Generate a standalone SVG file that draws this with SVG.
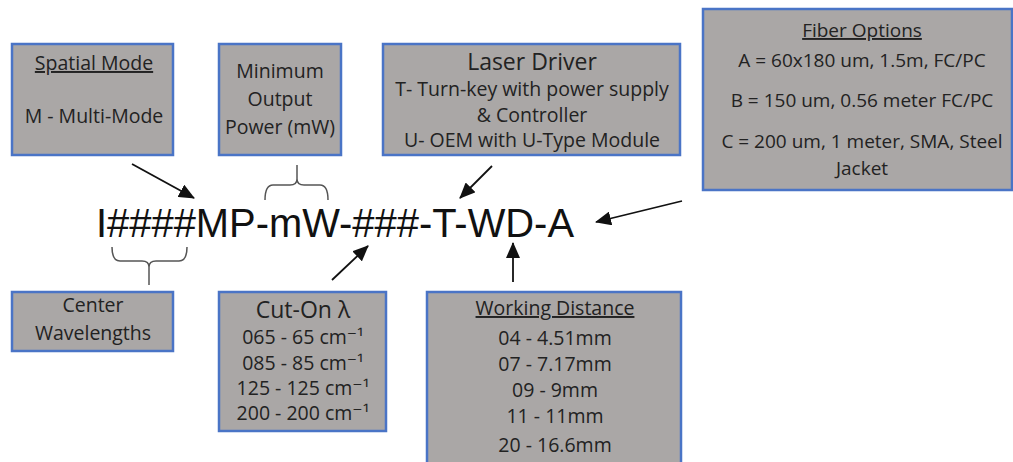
<svg xmlns="http://www.w3.org/2000/svg" width="1013" height="462" viewBox="0 0 1013 462">
<style>
.box{fill:#aaa7a6;stroke:#4a74c6;stroke-width:2.5}
.t{font-family:"Open Sans","DejaVu Sans",sans-serif;font-size:19.5px;fill:#222;text-anchor:middle}
.h{font-size:23px}
.f{font-size:19px}
.u{text-decoration:underline}
.main{font-family:"Liberation Sans",Arial,sans-serif;font-size:40px;fill:#111}
.arr{stroke:#111;stroke-width:1.8;fill:none;marker-end:url(#ah)}
.br{stroke:#555;stroke-width:1.5;fill:none}
</style>
<defs>
<marker id="ah" markerUnits="userSpaceOnUse" markerWidth="16" markerHeight="14" refX="15" refY="7" orient="auto">
<path d="M0,0 L16,7 L0,14 Z" fill="#111"/>
</marker>
</defs>
<rect width="1013" height="462" fill="#fff"/>
<g id="spatial-mode">
<rect class="box" x="12" y="44" width="161" height="111"/>
<text class="t u" x="94" y="70">Spatial Mode</text>
<text class="t" x="94" y="123" font-size="20">M - Multi-Mode</text>
</g>
<g id="min-power">
<rect class="box" x="219" y="44" width="122" height="111"/>
<text class="t" x="280" y="78">Minimum</text>
<text class="t" x="280" y="106">Output</text>
<text class="t" x="280" y="134">Power (mW)</text>
</g>
<g id="laser-driver">
<rect class="box" x="383" y="44" width="297" height="111"/>
<text class="t h" x="532" y="70">Laser Driver</text>
<text class="t" x="532" y="96" font-size="20">T- Turn-key with power supply</text>
<text class="t" x="532" y="122" font-size="20">&amp; Controller</text>
<text class="t" x="532" y="147" font-size="20">U- OEM with U-Type Module</text>
</g>
<g id="fiber-options">
<rect class="box" x="703" y="9" width="309" height="181"/>
<text class="t f u" x="862" y="37">Fiber Options</text>
<text class="t f" x="862" y="67">A = 60x180 um, 1.5m, FC/PC</text>
<text class="t f" x="862" y="107">B = 150 um, 0.56 meter FC/PC</text>
<text class="t f" x="862" y="148">C = 200 um, 1 meter, SMA, Steel</text>
<text class="t f" x="862" y="175">Jacket</text>
</g>
<g id="center-wavelengths">
<rect class="box" x="12" y="292" width="161" height="59"/>
<text class="t" x="93" y="312">Center</text>
<text class="t" x="93" y="340">Wavelengths</text>
</g>
<g id="cut-on">
<rect class="box" x="219" y="292" width="167" height="139"/>
<text class="t h" x="303" y="318">Cut-On λ</text>
<text class="t" x="303" y="344">065 - 65 cm⁻¹</text>
<text class="t" x="303" y="370">085 - 85 cm⁻¹</text>
<text class="t" x="303" y="395">125 - 125 cm⁻¹</text>
<text class="t" x="303" y="420">200 - 200 cm⁻¹</text>
</g>
<g id="working-distance">
<rect class="box" x="427" y="292" width="254" height="180"/>
<text class="t u" x="555" y="315">Working Distance</text>
<text class="t" x="555" y="345">04 - 4.51mm</text>
<text class="t" x="555" y="371">07 - 7.17mm</text>
<text class="t" x="555" y="397">09 - 9mm</text>
<text class="t" x="555" y="423">11 - 11mm</text>
<text class="t" x="555" y="452">20 - 16.6mm</text>
</g>
<g id="part-number">
<text class="main" x="96" y="237" textLength="478" lengthAdjust="spacingAndGlyphs">I####MP-mW-###-T-WD-A</text>
</g>
<g id="connectors">
<line class="arr" x1="132" y1="164" x2="194" y2="198"/>
<line class="arr" x1="492" y1="166" x2="460" y2="198"/>
<line class="arr" x1="682" y1="201" x2="596" y2="222"/>
<line class="arr" x1="332" y1="280" x2="368" y2="246"/>
<line class="arr" x1="513" y1="282" x2="513" y2="243"/>
<path class="br" d="M112,247 Q112,261 120,261 L142,261 Q149,261 149,267 Q149,261 156,261 L179,261 Q187,261 187,247 M149,267 L149,285"/>
<path class="br" d="M265,200 Q265,185 273,185 L290,185 Q297,185 297,179 Q297,185 304,185 L320,185 Q328,185 328,200 M297,179 L297,165"/>
</g>
</svg>
